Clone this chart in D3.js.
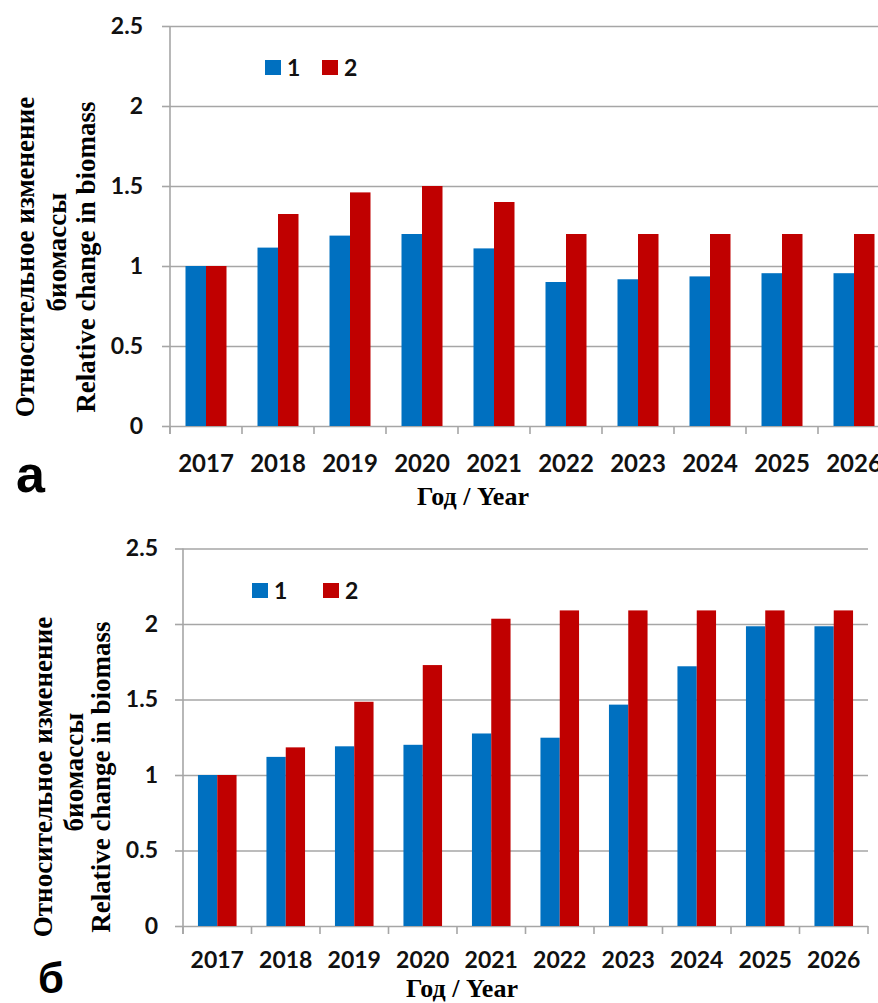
<!DOCTYPE html>
<html>
<head>
<meta charset="utf-8">
<script src="https://cdn.jsdelivr.net/npm/d3@7"></script>
<style>
html,body{margin:0;padding:0;background:#fff;}
svg{display:block;}
</style>
</head>
<body>
<svg id="chart" width="878" height="1003"></svg>
<script>
// ---- data ----
const years = ["2017","2018","2019","2020","2021","2022","2023","2024","2025","2026"];
const seriesNames = ["1","2"];
const seriesColors = ["#0070C0","#C00000"];
const yTicks = [0,0.5,1,1.5,2,2.5];
// panel а
const aSeries1 = [1.00,1.115,1.19,1.20,1.11,0.90,0.917,0.935,0.955,0.955];
const aSeries2 = [1.00,1.325,1.46,1.50,1.40,1.20,1.20,1.20,1.20,1.20];
// panel б
const bSeries1 = [1.00,1.12,1.19,1.20,1.275,1.247,1.466,1.72,1.985,1.985];
const bSeries2 = [1.00,1.183,1.485,1.728,2.035,2.09,2.09,2.09,2.09,2.09];

const svg = d3.select("#chart");
const SANS = "Lato, 'Open Sans', sans-serif";
const SERIF = "'Liberation Serif', 'Times New Roman', serif";
const GRID = "#a6a6a6";

function panel(cfg){
  const g = svg.append("g");
  const x = d3.scaleBand().domain(years).range([cfg.x0, cfg.x1]).padding(0);
  const xs = d3.scaleBand().domain(seriesNames).range([0, x.bandwidth()]).paddingInner(0).paddingOuter(cfg.po);
  const y = d3.scaleLinear().domain([0,2.5]).range([cfg.yBottom, cfg.yTop]);

  // gridlines + y labels
  const yAxis = g.append("g").attr("transform",`translate(${cfg.x0},0)`)
    .call(d3.axisLeft(y).tickValues(yTicks).tickFormat(d=>String(d))
      .tickSize(-(cfg.gridEnd - cfg.x0)).tickPadding(cfg.yPad).tickSizeOuter(0));
  yAxis.select(".domain").remove();
  yAxis.selectAll("line").attr("stroke",GRID).attr("stroke-width",1.6);
  yAxis.selectAll("text").attr("font-family",SANS).attr("font-weight",700)
    .attr("font-size",cfg.yFont).attr("fill","#111");
  // small outer ticks on y
  const yTicksG = g.append("g").attr("transform",`translate(${cfg.x0},0)`)
    .call(d3.axisLeft(y).tickValues(yTicks).tickFormat("").tickSize(8).tickSizeOuter(0));
  yTicksG.select(".domain").remove();
  yTicksG.selectAll("line").attr("stroke",GRID).attr("stroke-width",1.6);
  // vertical axis line
  g.append("line").attr("x1",cfg.x0).attr("x2",cfg.x0)
    .attr("y1",y(2.5)).attr("y2",y(0)+8).attr("stroke",GRID).attr("stroke-width",1.6);

  // bars
  const data = [cfg.s1, cfg.s2];
  seriesNames.forEach((s,si)=>{
    g.append("g").selectAll("rect").data(years).join("rect")
      .attr("x",(d)=>x(d)+xs(s))
      .attr("width",xs.bandwidth())
      .attr("y",(d,i)=>y(data[si][i]))
      .attr("height",(d,i)=>y(0)-y(data[si][i]))
      .attr("fill",seriesColors[si]);
  });

  // x axis labels
  const xAxis = g.append("g").attr("transform",`translate(0,${y(0)})`)
    .call(d3.axisBottom(x).tickSize(0).tickPadding(cfg.xPad).tickSizeOuter(0));
  xAxis.select(".domain").remove();
  xAxis.selectAll("text").attr("font-family",SANS).attr("font-weight",700)
    .attr("font-size",cfg.xFont).attr("fill","#111");
  // boundary ticks
  const bounds = years.map(d=>x(d)).concat([x.range()[1]]);
  g.append("g").selectAll("line").data(bounds).join("line")
    .attr("x1",d=>d).attr("x2",d=>d).attr("y1",y(0)).attr("y2",y(0)+8)
    .attr("stroke",GRID).attr("stroke-width",1.6);

  // legend
  const lg = g.append("g");
  seriesNames.forEach((s,si)=>{
    lg.append("rect").attr("x",cfg.leg[si]).attr("y",cfg.legY).attr("width",16).attr("height",15)
      .attr("fill",seriesColors[si]);
    lg.append("text").attr("x",cfg.leg[si]+22).attr("y",cfg.legY+16).text(s)
      .attr("font-family",SANS).attr("font-weight",700).attr("font-size",23).attr("fill","#111");
  });

  // y title
  const tg = g.append("g").attr("font-family",SERIF).attr("font-weight",700)
    .attr("font-size",27).attr("fill","#000").attr("text-anchor","middle");
  const lines = ["Относительное изменение","биомассы","Relative change in biomass"];
  lines.forEach((t,i)=>{
    tg.append("text").attr("transform",`translate(${cfg.tX[i]},${cfg.tY + (i===1?-5:0)}) rotate(-90)`).text(t);
  });
  // x title
  g.append("text").attr("x",cfg.xtX).attr("y",cfg.xtY).attr("text-anchor","middle")
    .attr("font-family",SERIF).attr("font-weight",700).attr("font-size",26).text("Год / Year");
  // panel letter
  g.append("text").attr("x",cfg.letX).attr("y",cfg.letY).attr("font-family","'Liberation Sans', Arial, sans-serif")
    .attr("font-weight",700).attr("font-size",cfg.letFont).text(cfg.letter);
}

panel({x0:170,x1:890,gridEnd:890,po:0.756,yTop:26,yBottom:426,s1:aSeries1,s2:aSeries2,
  yPad:27,yFont:23,xPad:29,xFont:24,leg:[265,322],legY:60,
  tX:[34,66,95],tY:257,xtX:473,xtY:505,letX:16,letY:492,letFont:52,letter:"а"});
panel({x0:183,x1:868,gridEnd:868,po:0.775,yTop:548.5,yBottom:926,s1:bSeries1,s2:bSeries2,
  yPad:25,yFont:23,xPad:26,xFont:23,leg:[252,323],legY:583,
  tX:[52,83,110],tY:777,xtX:462,xtY:997,letX:38,letY:993,letFont:42,letter:"б"});
</script>
</body>
</html>
